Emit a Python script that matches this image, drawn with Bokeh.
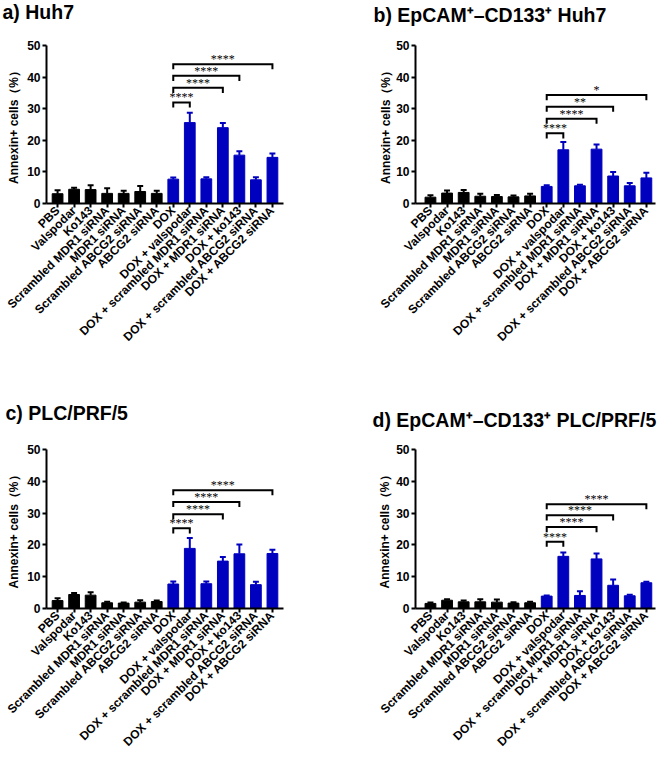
import math
from bokeh.plotting import figure
from bokeh.models import ColumnDataSource, FixedTicker, Range1d, Title
from bokeh.layouts import column, row
from bokeh.embed import file_html
from bokeh.resources import INLINE

# ---------------- data ----------------
labels = ["PBS", "Valspodar", "Ko143", "Scrambled MDR1 siRNA", "MDR1 siRNA",
          "Scrambled ABCG2 siRNA", "ABCG2 siRNA", "DOX", "DOX + valspodar",
          "DOX + scrambled MDR1 siRNA", "DOX + MDR1 siRNA", "DOX + ko143",
          "DOX + scrambled ABCG2 siRNA", "DOX + ABCG2 siRNA"]
groups = ["ctrl"] * 7 + ["dox"] * 7

vals_a = [3.1, 4.5, 4.4, 3.2, 3.2, 3.8, 3.2, 7.7, 25.6, 7.8, 24.0, 15.3, 7.5, 14.6]
err_a = [1.1, 0.5, 1.4, 1.6, 0.8, 1.7, 0.8, 0.5, 3.1, 0.5, 1.5, 1.2, 0.8, 1.2]

vals_b = [2.0, 3.3, 3.5, 2.3, 2.2, 2.1, 2.4, 5.4, 17.0, 5.6, 17.2, 8.7, 5.6, 8.1]
err_b = [0.6, 0.8, 0.8, 0.8, 0.5, 0.4, 0.7, 0.4, 2.5, 0.3, 1.5, 1.3, 0.9, 1.6]

vals_c = [2.5, 4.4, 4.2, 1.8, 1.7, 2.0, 2.2, 7.7, 18.9, 7.8, 14.9, 17.2, 7.5, 17.3]
err_c = [0.7, 0.5, 0.9, 0.3, 0.2, 0.6, 0.3, 0.8, 3.3, 0.7, 1.3, 2.9, 0.9, 1.2]

vals_d = [1.6, 2.6, 2.1, 2.1, 2.0, 1.7, 1.8, 3.9, 16.4, 4.1, 15.6, 7.3, 4.0, 8.1]
err_d = [0.3, 0.3, 0.4, 0.8, 0.8, 0.3, 0.3, 0.2, 1.2, 1.3, 1.7, 1.8, 0.3, 0.3]

# significance brackets: all start at DOX
brk_start = "DOX"
brk_end = ["DOX + valspodar", "DOX + MDR1 siRNA", "DOX + ko143", "DOX + ABCG2 siRNA"]
brk_y_a = [32.0, 36.6, 40.4, 44.1]
brk_t_a = ["****", "****", "****", "****"]
brk_y_b = [22.2, 26.8, 30.6, 34.3]
brk_t_b = ["****", "****", "**", "*"]
brk_y_c = [25.2, 29.6, 33.5, 37.2]
brk_t_c = ["****", "****", "****", "****"]
brk_y_d = [21.0, 25.6, 29.3, 32.8]
brk_t_d = ["****", "****", "****", "****"]

titles = ["a) Huh7", "b) EpCAM\u207a\u2013CD133\u207a Huh7",
          "c) PLC/PRF/5", "d) EpCAM\u207a\u2013CD133\u207a PLC/PRF/5"]

# ---------------- style ----------------
FONT = "Liberation Sans"
COLORS = {"ctrl": "#000000", "dox": "#0000BF"}
BAR_W = 0.65
CAP = 0.18
TICK_DROP = 1.6


def panel(title, vals, errs, brk_y, brk_t, width, height, bl, br, bt, bb,
          xr, title_off, spacer, ylab_standoff):
    p = figure(width=width, height=height, output_backend="svg",
               toolbar_location=None, x_range=Range1d(*xr), y_range=Range1d(0, 50),
               min_border_left=bl, min_border_right=br, min_border_top=bt,
               min_border_bottom=bb)
    p.outline_line_color = None
    p.xgrid.visible = False
    p.ygrid.visible = False
    p.background_fill_color = "white"
    p.border_fill_color = "white"

    p.title.text = title
    p.title.align = "left"
    p.title.vertical_align = "top"
    p.title.offset = title_off
    p.title.standoff = 0
    p.title.text_font = FONT
    p.title.text_font_style = "bold"
    p.title.text_font_size = "19.5px"
    p.title.text_color = "black"
    # invisible spacer between title and plot area
    p.add_layout(Title(text=" ", text_font_size="1px", standoff=spacer), "above")

    idx = list(range(len(labels)))
    pos = {lab: i for i, lab in enumerate(labels)}
    cols = [COLORS[g] for g in groups]
    hi = [v + e for v, e in zip(vals, errs)]
    src = ColumnDataSource(dict(x=idx, top=vals, hi=hi, color=cols,
                                cl=[i - CAP for i in idx], cr=[i + CAP for i in idx]))
    p.vbar(x="x", top="top", bottom=0, width=BAR_W, fill_color="color",
           line_color="color", source=src)
    p.segment(x0="x", y0="top", x1="x", y1="hi", line_color="color",
              line_width=2, source=src)
    p.segment(x0="cl", y0="hi", x1="cr", y1="hi", line_color="color",
              line_width=2, source=src)

    # brackets
    s = pos[brk_start]
    xs, ys, mx = [], [], []
    for e_lab, y in zip(brk_end, brk_y):
        e = pos[e_lab]
        xs.append([s, s, e, e])
        ys.append([y - TICK_DROP, y, y, y - TICK_DROP])
        mx.append((s + e) / 2)
    p.multi_line(xs=xs, ys=ys, line_color="black", line_width=2,
                 line_join="miter")
    p.text(x=mx, y=brk_y, text=brk_t, text_align="center",
           text_baseline="bottom", text_font_size="12px",
           text_font="Liberation Sans", text_color="black", y_offset=2)

    # axes
    ya = p.yaxis[0]
    ya.ticker = FixedTicker(ticks=[0, 10, 20, 30, 40, 50])
    ya.axis_label = "Annexin+ cells\uff08%\uff09"
    ya.axis_label_text_font = FONT
    ya.axis_label_text_font_style = "bold"
    ya.axis_label_text_font_size = "12px"
    ya.axis_label_standoff = ylab_standoff
    ya.major_label_text_font = FONT
    ya.major_label_text_font_style = "bold"
    ya.major_label_text_font_size = "12px"
    ya.major_label_standoff = 2

    xa = p.xaxis[0]
    xa.ticker = FixedTicker(ticks=idx)
    xa.major_label_overrides = {i: lab for i, lab in enumerate(labels)}
    xa.major_label_orientation = math.pi / 4
    xa.major_label_text_font = FONT
    xa.major_label_text_font_style = "bold"
    xa.major_label_text_font_size = "12px"
    xa.major_label_standoff = 1

    for ax in (xa, ya):
        ax.axis_line_width = 2
        ax.axis_line_color = "black"
        ax.major_tick_line_width = 2
        ax.major_tick_line_color = "black"
        ax.major_tick_out = 4
        ax.major_tick_in = 0
        ax.minor_tick_line_color = None
        ax.major_label_text_color = "black"
        ax.axis_label_text_color = "black"
    return p


pa = panel(titles[0], vals_a, err_a, brk_y_a, brk_t_a, 330, 400, 46, 47, 44, 197,
           (-0.67, 13.67), -44, 18, 3)
pb = panel(titles[1], vals_b, err_b, brk_y_b, brk_t_b, 330, 400, 85, 5, 44, 197,
           (-0.9, 13.55), -42, 15, 0)
pc = panel(titles[2], vals_c, err_c, brk_y_c, brk_t_c, 330, 357, 46, 47, 49, 149,
           (-0.67, 13.67), -41, 21, 3)
pd = panel(titles[3], vals_d, err_d, brk_y_d, brk_t_d, 330, 357, 85, 5, 49, 149,
           (-0.9, 13.55), -43, 14, 1)

layout = column(row(pa, pb), row(pc, pd))
open("out.html", "w").write(file_html(layout, INLINE))
